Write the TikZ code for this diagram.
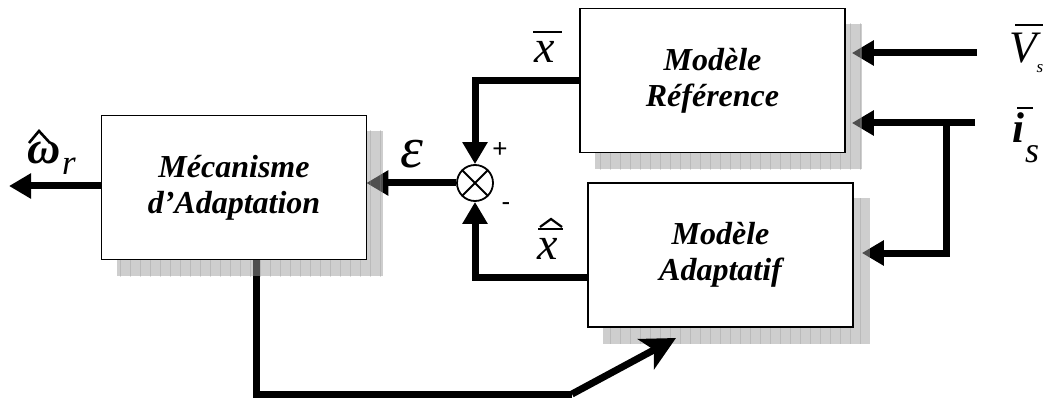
\documentclass[tikz,border=0pt]{standalone}
\usepackage{fontspec}
\setmainfont{Liberation Serif}
\newfontfamily\signfont{Liberation Sans}
\usetikzlibrary{arrows.meta,calc}
\pgfdeclarelayer{wires}
\pgfdeclarelayer{shades}
\pgfsetlayers{wires,shades,main}

\definecolor{shadefill}{gray}{0.62}
\definecolor{shadegrid}{gray}{0.55}

% grey chequered drop shadow, offset right and down from a block
\newcommand\dropshade[1]{%
  \begin{pgfonlayer}{shades}
    \begin{scope}
      \path[clip] ($(#1.north west)+(16,16)$) rectangle ($(#1.south east)+(16,16)$);
      \fill[shadefill,fill opacity=0.5] ($(#1.north west)+(16,16)$) rectangle ($(#1.south east)+(16,16)$);
      \draw[shadegrid,draw opacity=0.3,line width=0.5pt] ($(#1.north west)+(10,10)$) grid[step=10] ($(#1.south east)+(20,20)$);
    \end{scope}
  \end{pgfonlayer}}

\begin{document}
\begin{tikzpicture}[x=1pt,y=-1pt,
  blockbox/.style={draw,line width=1.6pt,fill=white,minimum width=265pt,
    minimum height=144pt,align=center,inner sep=0pt,
    font=\fontsize{32}{36}\selectfont\bfseries\itshape},
  summer/.style={draw,circle,line width=1.8pt,minimum size=36pt,inner sep=0pt},
  sig/.style={line width=7pt},
  sigarrow/.style={sig,-{Triangle[length=22pt,width=24pt]}},
  lbl/.style={inner sep=0pt},
  accent/.style={line width=2.2pt,line join=miter},
  sign/.style={inner sep=0pt,font=\signfont\fontsize{26}{26}\selectfont}
]
\useasboundingbox (0,0) rectangle (1046,398);

% blocks
\node[blockbox] (mec) at (234,187.5) {Mécanisme\\d’Adaptation};
\node[blockbox] (ref) at (712.5,80.5) {Modèle\\Référence};
\node[blockbox] (ada) at (720.5,255) {Modèle\\Adaptatif};
\dropshade{mec}
\dropshade{ref}
\dropshade{ada}

% comparator
\node[summer] (sum) at (475,183) {};
\draw[line width=1.8pt] (sum.45) -- (sum.225) (sum.135) -- (sum.315);
\node[sign] (plus) at (500,150) {+};
\node[sign] (minus) at (506,207) {-};

% free ends of the signal lines
\coordinate (vin) at (977,53);
\coordinate (iin) at (975,123);
\coordinate (tap) at (946,123);
\coordinate (wout) at (9,186);
\coordinate (corner) at (572,394);
\coordinate (adatip) at (676,338);

% signal lines
\begin{pgfonlayer}{wires}
  \draw[sigarrow] (ref.west |- 0,81) -| (sum.north);
  \draw[sigarrow] (ada.west |- 0,277) -| (sum.south);
  \draw[sigarrow] (sum.west) -- ([xshift=-1]mec.east |- sum.west);
  \draw[sigarrow] (mec.west |- 0,186) -- (wout);
  \draw[sigarrow] (vin) -- ([xshift=6]ref.east |- vin);
  \draw[sigarrow] (iin) -- ([xshift=6]ref.east |- iin);
  \draw[sig] (tap) -- ++(0,130) coordinate (tapb);
  \draw[sigarrow] ([xshift=3.5]tapb) -- ([xshift=8]ada.east |- tapb);
  \draw[sig] (mec.south -| 256,0) -- (256,394) -- (corner);
\end{pgfonlayer}
\draw[sig,-{Stealth[length=34pt,width=34pt,inset=9pt]}] (corner) -- (adatip);

% signal names, with their bars and hats
\node[lbl,font=\fontsize{46}{46}\selectfont\itshape] (xbar) at (545,52) {x};
\draw[accent] ($(xbar)+(-12,-20)$) -- ($(xbar)+(17,-20)$);

\node[lbl,font=\fontsize{46}{46}\selectfont\itshape] (xhat) at (548,249) {x};
\draw[accent] ($(xhat)+(-10,-20)$) -- ($(xhat)+(15,-20)$);
\draw[accent] ($(xhat)+(-8,-22)$) -- ($(xhat)+(3,-30)$) -- ($(xhat)+(14,-22)$);

\node[lbl,font=\fontsize{58}{58}\selectfont\itshape] (eps) at (412,154) {ε};

\node[lbl,font=\fontsize{46}{46}\selectfont\bfseries\itshape] (omega) at (44,153) {ω};
\draw[accent,line width=2.6pt] ($(omega)+(-15,-10)$) -- ($(omega)+(-5,-22)$) -- ($(omega)+(6,-10)$);
\node[lbl,font=\fontsize{35}{35}\selectfont\itshape] (rsub) at (69,166) {r};

\node[lbl,font=\fontsize{45}{45}\selectfont\itshape] (vlet) at (1023,48) {V};
\draw[accent] ($(vlet)+(-8,-23)$) -- ($(vlet)+(20,-23)$);
\node[lbl,font=\fontsize{17}{17}\selectfont\itshape] (vsub) at (1040,69) {s};

\node[lbl,font=\fontsize{43}{43}\selectfont\bfseries\itshape] (ilet) at (1018,128) {i};
\draw[accent] ($(ilet)+(-1,-20)$) -- ($(ilet)+(15,-20)$);
\node[lbl,font=\fontsize{36}{36}\selectfont\itshape] (isub) at (1032,154) {s};
\end{tikzpicture}
\end{document}
